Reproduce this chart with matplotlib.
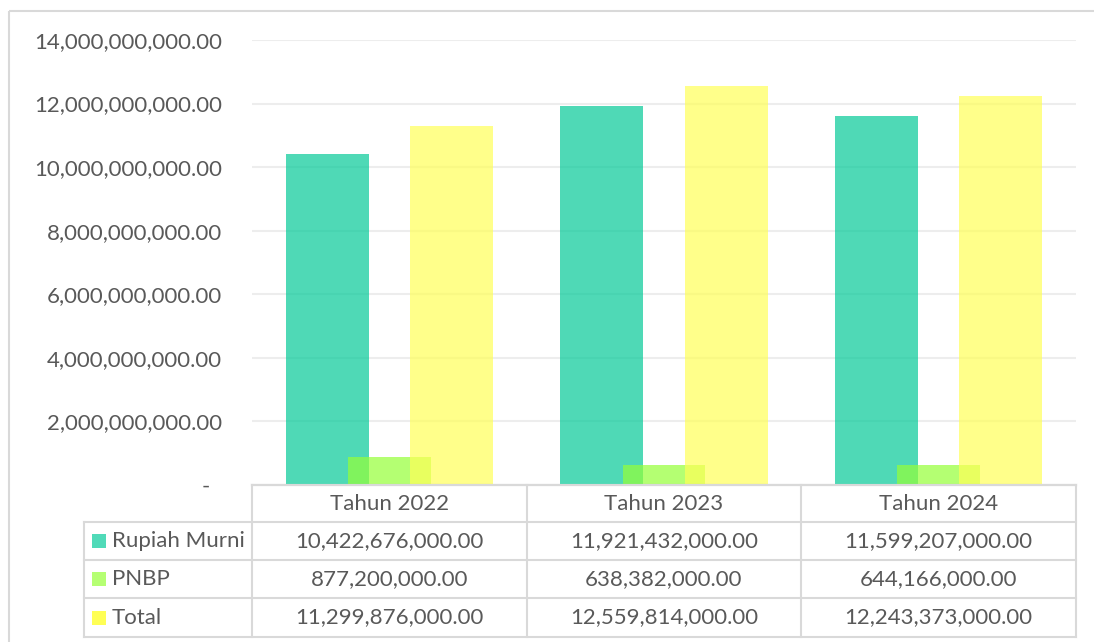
import numpy as np
import matplotlib.pyplot as plt
from matplotlib.patches import Rectangle
from matplotlib.ticker import FuncFormatter

# data
years = ['Tahun 2022', 'Tahun 2023', 'Tahun 2024']
series_names = ['Rupiah Murni', 'PNBP', 'Total']
rupiah_murni = [10422676000.00, 11921432000.00, 11599207000.00]
pnbp = [877200000.00, 638382000.00, 644166000.00]
total = [11299876000.00, 12559814000.00, 12243373000.00]

bar_colors = ['#04CA98', '#95FF37', '#FFFF58']
legend_colors = ['#50DAB8', '#B5FF73', '#FFFF55']
txt = '#595959'
grid_c = '#EDEDED'
line_c = '#D9D9D9'

plt.rcParams['font.family'] = ['Lato', 'DejaVu Sans']

W, H = 1094, 642
fig = plt.figure(figsize=(W / 100, H / 100), dpi=100)

# plot area in pixel coordinates
x0, x1 = 252, 1076
y_zero, y_top = 485, 40
ax = fig.add_axes([x0 / W, 1 - y_zero / H, (x1 - x0) / W, (y_zero - y_top) / H])

x = np.arange(len(years))
bw = 0.302
step = 0.226
for i, vals in enumerate([rupiah_murni, pnbp, total]):
    ax.bar(x + (i - 1) * step, vals, width=bw, color=bar_colors[i], alpha=0.7,
           zorder=3 + i, label=series_names[i])

ax.set_xlim(-0.5, len(years) - 0.5)
ax.set_ylim(0, 14e9)
ax.set_yticks(np.arange(0, 14e9 + 1, 2e9))


def fmt(v, pos):
    if v == 0:
        return '-  '
    return f'{v:,.2f}'


ax.yaxis.set_major_formatter(FuncFormatter(fmt))
ax.tick_params(axis='y', length=0, pad=21.6, labelsize=16, labelcolor=txt)
ax.set_xticks([])
ax.grid(axis='y', color=grid_c, lw=1.5, zorder=0)
for s in ['top', 'right', 'left']:
    ax.spines[s].set_visible(False)
ax.spines['bottom'].set_color('#C8C8C8')
ax.spines['bottom'].set_linewidth(1.5)
ax.spines['bottom'].set_zorder(10)

# overlay in pixel coordinates for frame and data table
ov = fig.add_axes([0, 0, 1, 1], zorder=-1)
ov.set_xlim(0, W)
ov.set_ylim(H, 0)
ov.axis('off')
ov.add_patch(Rectangle((8.5, 10.5), 1200, 700, fill=False, ec=line_c, lw=1.5))

ov2 = fig.add_axes([0, 0, 1, 1], zorder=5)
ov2.set_xlim(0, W)
ov2.set_ylim(H, 0)
ov2.axis('off')
ov2.patch.set_alpha(0)

col_edges = np.linspace(x0, x1, len(years) + 1)
row_edges = [485, 522, 560, 598, 637]
lab_left = 84

# horizontal lines
ov2.plot([x0, x1], [row_edges[0], row_edges[0]], color=line_c, lw=1.5)
for yy in row_edges[1:]:
    ov2.plot([lab_left, x1], [yy, yy], color=line_c, lw=1.5)
# vertical lines
ov2.plot([lab_left, lab_left], [row_edges[1], row_edges[-1]], color=line_c, lw=1.5)
for xx in col_edges:
    ov2.plot([xx, xx], [row_edges[0], row_edges[-1]], color=line_c, lw=1.5)

fs = 16
for j, yr in enumerate(years):
    cx = (col_edges[j] + col_edges[j + 1]) / 2
    ov2.text(cx, (row_edges[0] + row_edges[1]) / 2, yr, ha='center', va='center',
             fontsize=fs, color=txt)
for i, vals in enumerate([rupiah_murni, pnbp, total]):
    cy = (row_edges[i + 1] + row_edges[i + 2]) / 2
    ov2.add_patch(Rectangle((92, cy - 7), 14, 14, color=legend_colors[i], lw=0))
    ov2.text(112, cy, series_names[i], ha='left', va='center', fontsize=fs, color=txt)
    for j, v in enumerate(vals):
        cx = (col_edges[j] + col_edges[j + 1]) / 2
        ov2.text(cx, cy, f'{v:,.2f}', ha='center', va='center', fontsize=fs, color=txt)

fig.savefig('out.png', dpi=100)
